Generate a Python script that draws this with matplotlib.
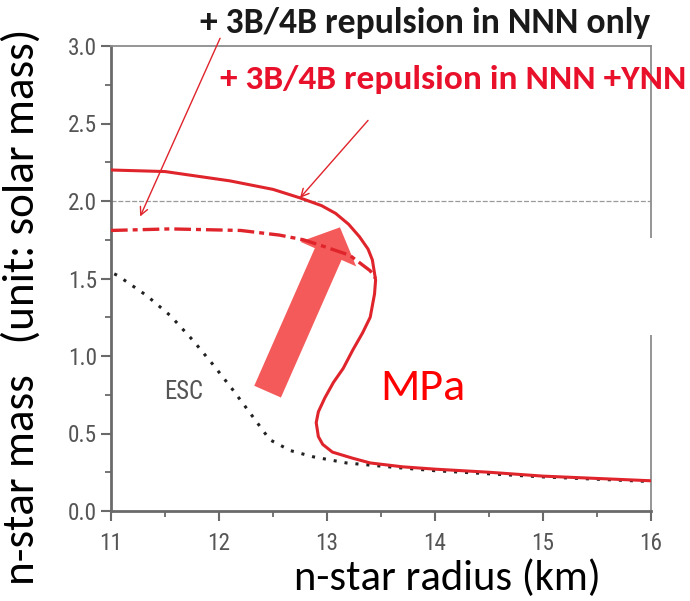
import matplotlib
matplotlib.use("Agg")
import matplotlib.pyplot as plt
import matplotlib.patches as mpatches
from matplotlib import font_manager
from matplotlib.ticker import MultipleLocator

# Mass-radius relation, 3B/4B repulsion in NNN + YNN (solid)
solid_r = [11.0, 11.5, 12.1, 12.5, 12.75, 12.95, 13.08, 13.2, 13.3, 13.38, 13.42, 13.45,
           13.44, 13.4, 13.33, 13.24, 13.15, 13.06, 12.98, 12.92, 12.9, 12.92, 12.96, 13.05,
           13.24, 13.4, 13.7, 14.0, 14.5, 15.0, 15.5, 16.0]
solid_m = [2.20, 2.19, 2.13, 2.075, 2.02, 1.97, 1.92, 1.85, 1.77, 1.69, 1.62, 1.49,
           1.40, 1.25, 1.15, 1.04, 0.92, 0.83, 0.73, 0.64, 0.57, 0.48, 0.43, 0.38,
           0.34, 0.31, 0.285, 0.27, 0.25, 0.225, 0.21, 0.195]

# 3B/4B repulsion in NNN only (dash-dot)
dashdot_r = [11.0, 11.55, 12.2, 12.56, 12.78, 12.87, 13.0, 13.21, 13.4, 13.45]
dashdot_m = [1.81, 1.82, 1.81, 1.78, 1.75, 1.73, 1.70, 1.65, 1.55, 1.50]

# ESC (dotted)
esc_r = [11.03, 11.06, 11.33, 11.55, 11.76, 11.95, 12.13, 12.29, 12.47, 12.66,
         12.87, 13.18, 13.65, 14.0, 14.5, 15.0, 15.5, 16.0]
esc_m = [1.53, 1.52, 1.39, 1.26, 1.10, 0.94, 0.78, 0.63, 0.46, 0.39,
         0.35, 0.31, 0.28, 0.26, 0.24, 0.22, 0.205, 0.19]

ref_mass = 2.0
x_ticks = [11, 12, 13, 14, 15, 16]
x_labels = ["11", "12", "13", "14", "15", "16"]
y_ticks = [0.0, 0.5, 1.0, 1.5, 2.0, 2.5, 3.0]
y_labels = ["0.0", "0.5", "1.0", "1.5", "2.0", "2.5", "3.0"]

installed = {f.name for f in font_manager.fontManager.ttflist}


def pick(*names):
    return [n for n in names if n in installed] + ["DejaVu Sans"]


narrow = pick("Roboto Condensed", "Archivo Narrow", "PT Sans Narrow", "Liberation Sans")
body = pick("Carlito", "Lato")
bold = pick("Carlito", "Open Sans")

W, H = 690, 601
fig = plt.figure(figsize=(W / 100, H / 100), dpi=100)
renderer = fig.canvas.get_renderer()


def fit(text, width_px, vertical=False):
    """Scale a text's font size so it spans the given number of pixels."""
    bb = text.get_window_extent(renderer)
    span = bb.height if vertical else bb.width
    text.set_fontsize(text.get_fontsize() * width_px / span)
    return text


ax = fig.add_axes([111 / W, (H - 511) / H, 540 / W, 465 / H])

RED = "#e0242c"
ax.axhline(ref_mass, color="#9a9a9a", lw=0.9, ls=(0, (4, 1.5)), zorder=1)
ax.plot(esc_r, esc_m, color="#222222", lw=2.2, ls=(0, (1, 2.6)), zorder=2)
ax.plot(solid_r, solid_m, color=RED, lw=2.2, zorder=4, solid_joinstyle="round")
ax.plot(dashdot_r, dashdot_m, color=RED, lw=2.4, ls=(0, (5, 1.5, 1.5, 1.5)), zorder=4)

ax.set_xlim(11, 16)
ax.set_ylim(0, 3.0)

# tick label size chosen so "3.0" is about 29 px wide
probe = fig.text(0, 0, "3.0", fontsize=18, family=narrow)
tick_size = fit(probe, 29).get_fontsize()
probe.remove()

tick_font = dict(fontsize=tick_size, family=narrow, color="#555555")
ax.set_xticks(x_ticks, x_labels, **tick_font)
ax.set_yticks(y_ticks, y_labels, **tick_font)
ax.xaxis.set_minor_locator(MultipleLocator(0.5))
ax.yaxis.set_minor_locator(MultipleLocator(0.25))

gray = "#6a6a6a"
for side in ["left", "bottom"]:
    ax.spines[side].set_color(gray)
    ax.spines[side].set_linewidth(2.0)
for side in ["top", "right"]:
    ax.spines[side].set_color("#8c8c8c")
    ax.spines[side].set_linewidth(1.3)
ax.tick_params(which="major", direction="out", length=7, width=1.5, color=gray)
ax.tick_params(axis="x", which="major", pad=8)
ax.tick_params(axis="y", which="major", pad=3)
ax.tick_params(which="minor", direction="out", length=4, width=1.3, color=gray)

esc = ax.text(11.67, 0.765, "ESC", color="#555555", fontsize=16, family=narrow,
              ha="center", va="center")
fit(esc, 39)

# thin pointers to the two curves
ax.annotate("", xy=(11.27, 1.90), xytext=(12.01, 3.05), annotation_clip=False,
            arrowprops=dict(arrowstyle="->", color=RED, lw=1.0,
                            mutation_scale=14, shrinkA=0, shrinkB=0))
ax.annotate("", xy=(12.75, 2.02), xytext=(13.38, 2.52), annotation_clip=False,
            arrowprops=dict(arrowstyle="->", color=RED, lw=1.0,
                            mutation_scale=14, shrinkA=0, shrinkB=0))

# broad arrow showing the shift of the maximum mass
big = mpatches.FancyArrowPatch((12.45, 0.77), (13.12, 1.83),
                               arrowstyle="simple,head_length=21,head_width=44,tail_width=21",
                               mutation_scale=1, color="#f55a5a", lw=0, zorder=3,
                               shrinkA=0, shrinkB=0)
ax.add_patch(big)

# white label panel on the right
fig.patches.append(mpatches.Rectangle((385 / W, (H - 335) / H), 305 / W, 97 / H,
                                      transform=fig.transFigure, facecolor="white",
                                      edgecolor="none", zorder=5))

mpa = fig.text(423 / W, 1 - 388 / H, "MPa", color="#ff0000", fontsize=30, family=body,
               ha="center", va="center", zorder=6)
fit(mpa, 85)

t1 = fig.text(425 / W, 1 - 23 / H, "+ 3B/4B repulsion in NNN only", color="#1a1a1a",
              fontsize=21, fontweight="bold", family=bold, ha="center", va="center")
fit(t1, 450)
t2 = fig.text(453 / W, 1 - 79 / H, "+ 3B/4B repulsion in NNN +YNN", color="#e8102a",
              fontsize=21, fontweight="bold", family=bold, ha="center", va="center")
fit(t2, 466)

yl = fig.text(21 / W, 1 - 307 / H, "n-star mass   (unit: solar mass)", color="black",
              fontsize=30, family=body, rotation=90, ha="center", va="center")
fit(yl, 555, vertical=True)
xl = fig.text(447 / W, 1 - 578 / H, "n-star radius (km)", color="black",
              fontsize=29, family=body, ha="center", va="center")
fit(xl, 307)

fig.savefig("out.png", dpi=100)
